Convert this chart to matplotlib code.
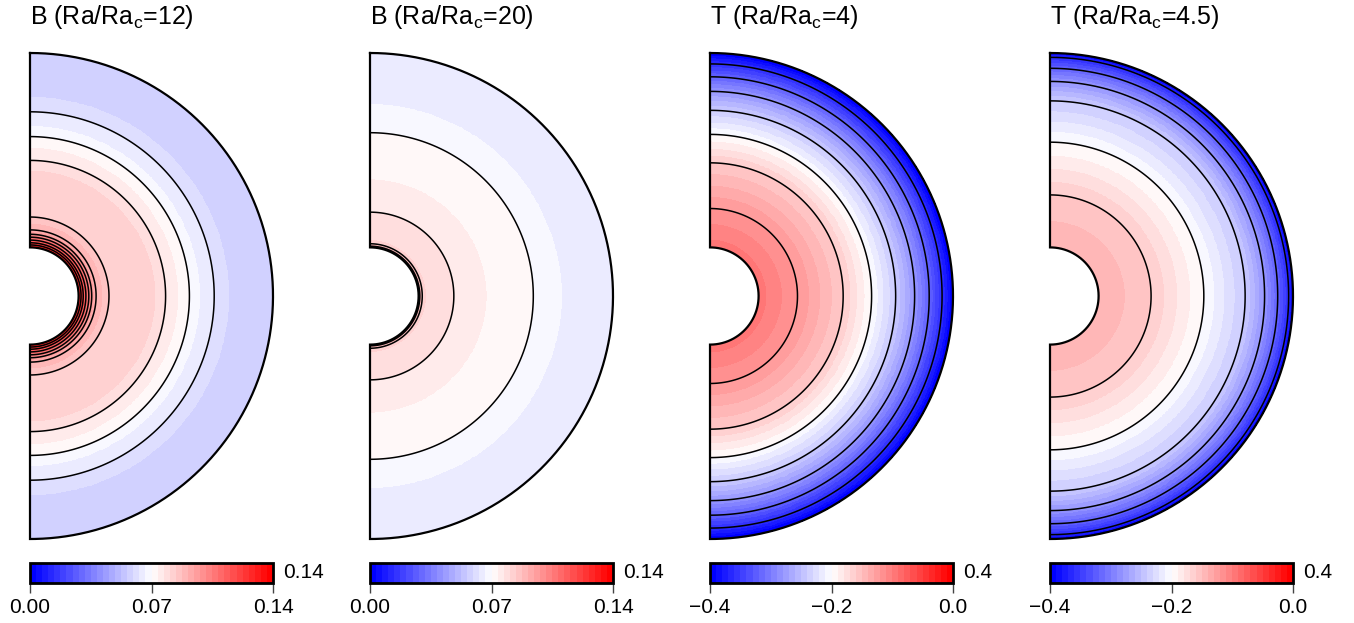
import numpy as np
import matplotlib
matplotlib.use("Agg")
import matplotlib.pyplot as plt
from matplotlib.colors import LinearSegmentedColormap, Normalize
from matplotlib.cm import ScalarMappable

plt.rcParams['font.family'] = ['Liberation Sans', 'DejaVu Sans']
plt.rcParams['mathtext.fontset'] = 'custom'
plt.rcParams['mathtext.rm'] = 'Liberation Sans'

# radial profiles (radius scaled to outer radius = 1)
B12_r = [0.200, 0.210, 0.219, 0.230, 0.242, 0.254, 0.272, 0.325, 0.515, 0.558, 0.610, 0.656, 0.700, 0.758, 0.820, 1.000]
B12_v = [0.131, 0.126, 0.119, 0.112, 0.105, 0.098, 0.091, 0.084, 0.0805, 0.077, 0.0735, 0.070, 0.0665, 0.063, 0.0595, 0.0565]

B20_r = [0.200, 0.205, 0.215, 0.230, 0.345, 0.480, 0.672, 0.790, 1.000]
B20_v = [0.095, 0.091, 0.084, 0.0805, 0.077, 0.0735, 0.070, 0.0665, 0.0640]

T4_r = [0.200, 0.360, 0.548, 0.665, 0.764, 0.842, 0.902, 0.955, 1.000]
T4_v = [-0.095, -0.12, -0.16, -0.20, -0.24, -0.28, -0.32, -0.36, -0.40]

T45_r = [0.200, 0.416, 0.633, 0.803, 0.883, 0.937, 0.982, 1.000]
T45_v = [-0.140, -0.16, -0.20, -0.24, -0.28, -0.32, -0.36, -0.40]

B_levels = [0.063, 0.070, 0.077, 0.084, 0.091, 0.098, 0.105, 0.112, 0.119, 0.126, 0.133]
T_levels = [-0.36, -0.32, -0.28, -0.24, -0.20, -0.16, -0.12, -0.08, -0.04]

titles = ['B (Ra/Ra$_{\\rm c}$=12)', 'B (Ra/Ra$_{\\rm c}$=20)',
          'T (Ra/Ra$_{\\rm c}$=4)', 'T (Ra/Ra$_{\\rm c}$=4.5)']
profiles = [(B12_r, B12_v), (B20_r, B20_v), (T4_r, T4_v), (T45_r, T45_v)]
levels = [B_levels, B_levels, T_levels, T_levels]
zlims = [(0.0, 0.14), (0.0, 0.14), (-0.4, 0.0), (-0.4, 0.0)]
cb_ticks = [[0.0, 0.07, 0.14], [0.0, 0.07, 0.14], [-0.4, -0.2, 0.0], [-0.4, -0.2, 0.0]]
cb_labels = [['0.00', '0.07', '0.14'], ['0.00', '0.07', '0.14'],
             ['\u22120.4', '\u22120.2', '0.0'], ['\u22120.4', '\u22120.2', '0.0']]
side_labels = ['0.14', '0.14', '0.4', '0.4']

ri = 0.2
cmap = LinearSegmentedColormap.from_list('bwr40', ['#0000ff', '#ffffff', '#ff0000'], N=40)

W, H = 1354, 623
fig = plt.figure(figsize=(W / 100, H / 100), dpi=100)

# grid for the filled half annulus
re = np.linspace(ri, 1.0, 401)
te = np.linspace(-np.pi / 2, np.pi / 2, 241)
rc = 0.5 * (re[1:] + re[:-1])
RE, TE = np.meshgrid(re, te)
XE, YE = RE * np.cos(TE), RE * np.sin(TE)

# grid for contours
rr = np.linspace(ri, 1.0, 801)
tt = np.linspace(-np.pi / 2, np.pi / 2, 361)
RR, TT = np.meshgrid(rr, tt)
XC, YC = RR * np.cos(TT), RR * np.sin(TT)

for i in range(4):
    x0 = 30 + 340 * i
    ax = fig.add_axes([x0 / W, 84 / H, 243 / W, 486 / H])
    ax.set_xlim(0, 1)
    ax.set_ylim(-1, 1)
    ax.set_axis_off()

    r_k, v_k = profiles[i]
    norm = Normalize(*zlims[i])
    C = np.tile(np.interp(rc, r_k, v_k), (len(te) - 1, 1))
    ax.pcolormesh(XE, YE, C, cmap=cmap, norm=norm, shading='flat',
                  antialiased=False, linewidth=0)

    V = np.interp(RR, r_k, v_k)
    lv = [l for l in levels[i] if min(v_k) < l < max(v_k)]
    ax.contour(XC, YC, V, levels=lv, colors='k', linewidths=1.1, linestyles='solid')

    # outline of the half annulus
    th = np.linspace(np.pi / 2, -np.pi / 2, 300)
    bx = np.concatenate([np.cos(th), [0, 0], ri * np.cos(th[::-1]), [0]])
    by = np.concatenate([np.sin(th), [-1, -ri], ri * np.sin(th[::-1]), [1]])
    ax.plot(bx, by, color='k', lw=1.6, clip_on=False, solid_joinstyle='miter')

    fig.text(x0 / W, (H - 24) / H, titles[i], fontsize=18, ha='left', va='baseline')

    # colour bar
    cax = fig.add_axes([x0 / W, 40 / H, 243 / W, 20 / H])
    cb = fig.colorbar(ScalarMappable(norm=norm, cmap=cmap), cax=cax, orientation='horizontal')
    cb.outline.set_linewidth(2)
    cb.set_ticks(cb_ticks[i])
    cb.set_ticklabels(cb_labels[i])
    cax.tick_params(axis='x', direction='out', length=7, width=1, color='#444444',
                    labelsize=15, pad=4)
    fig.text((x0 + 253) / W, 50 / H, side_labels[i], fontsize=15, ha='left', va='center')

fig.savefig('out.png', dpi=100)
